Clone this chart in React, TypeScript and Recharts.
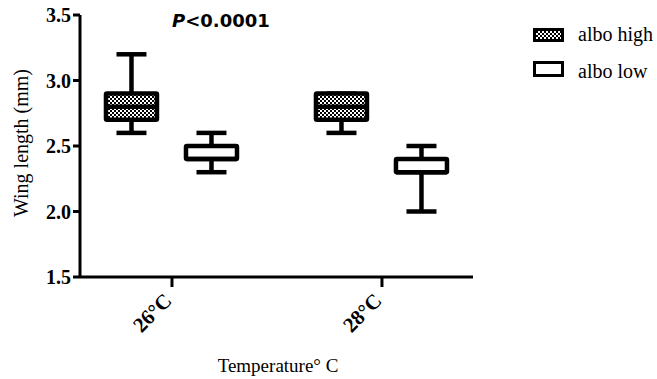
import { Bar, ComposedChart, Label, XAxis, YAxis } from 'recharts';

// wing length box plots, albo high vs albo low, per rearing temperature
const categories = ['26°C', '28°C'];
const temps = [26, 28];

const highMin = [2.6, 2.6];
const highQ1 = [2.7, 2.7];
const highMedian = [2.8, 2.8];
const highQ3 = [2.9, 2.9];
const highMax = [3.2, 2.9];

const lowMin = [2.3, 2.0];
const lowQ1 = [2.4, 2.3];
const lowMedian = [2.4, 2.3];
const lowQ3 = [2.5, 2.4];
const lowMax = [2.6, 2.5];

const yTicks = [1.5, 2.0, 2.5, 3.0, 3.5];

const INK = '#000';
const SERIF = '"Liberation Serif", "Times New Roman", serif';
const SANS = '"DejaVu Sans", Verdana, sans-serif';

interface BoxStats {
  min: number;
  q1: number;
  median: number;
  q3: number;
  max: number;
}

const data = temps.map((t, i) => ({
  temp: t,
  label: categories[i],
  high: { min: highMin[i], q1: highQ1[i], median: highMedian[i], q3: highQ3[i], max: highMax[i] },
  low: { min: lowMin[i], q1: lowQ1[i], median: lowMedian[i], q3: lowQ3[i], max: lowMax[i] },
  highRange: [highMin[i], highMax[i]],
  lowRange: [lowMin[i], lowMax[i]],
}));

const makeBox = (kind: 'high' | 'low') => (props: any) => {
  const { x, y, width, height, payload } = props;
  const s: BoxStats = payload[kind];
  const top = Math.min(y, y + height);
  const h = Math.abs(height);
  const k = h / (s.max - s.min);
  const py = (v: number) => top + (s.max - v) * k;
  const cx = x + width / 2;
  const cap = 30;
  const sw = 4.5;
  return (
    <g>
      <line x1={cx} x2={cx} y1={py(s.max)} y2={py(s.q3)} stroke={INK} strokeWidth={sw} />
      <line x1={cx} x2={cx} y1={py(s.q1)} y2={py(s.min)} stroke={INK} strokeWidth={sw} />
      <line x1={cx - cap / 2} x2={cx + cap / 2} y1={py(s.max)} y2={py(s.max)} stroke={INK} strokeWidth={sw} />
      <line x1={cx - cap / 2} x2={cx + cap / 2} y1={py(s.min)} y2={py(s.min)} stroke={INK} strokeWidth={sw} />
      <rect
        x={x + 2}
        y={py(s.q3)}
        width={width - 4}
        height={py(s.q1) - py(s.q3)}
        fill={kind === 'high' ? 'url(#checker)' : '#fff'}
        stroke={INK}
        strokeWidth={sw}
        rx={1}
      />
      <line x1={x + 2} x2={x + width - 2} y1={py(s.median)} y2={py(s.median)} stroke={INK} strokeWidth={sw} />
    </g>
  );
};

const XTick = (props: any) => {
  const { x, y, payload } = props;
  const idx = temps.indexOf(payload.value);
  const ax = x + 1;
  const ay = y + 13;
  return (
    <text
      x={ax}
      y={ay}
      transform={`rotate(-45, ${ax}, ${ay})`}
      textAnchor="end"
      fontFamily={SERIF}
      fontWeight="bold"
      fontSize={21}
      fill={INK}
    >
      {categories[idx]}
    </text>
  );
};

const Checker = ({ id }: { id: string }) => (
  <pattern id={id} width={4} height={4} patternUnits="userSpaceOnUse">
    <rect width={4} height={4} fill="#fff" />
    <rect width={2} height={2} fill="#000" />
    <rect x={2} y={2} width={2} height={2} fill="#000" />
  </pattern>
);

export default function App() {
  return (
    <div style={{ position: 'absolute', left: 0, top: 0, width: 657, height: 379, background: '#fff' }}>
      <ComposedChart
        width={657}
        height={379}
        data={data}
        margin={{ top: 15, right: 184, bottom: 42, left: 0 }}
        barSize={55}
        barGap={25}
      >
        <defs>
          <Checker id="checker" />
        </defs>
        <XAxis
          dataKey="temp"
          type="number"
          domain={[25.124, 28.867]}
          ticks={temps}
          height={60}
          axisLine={{ stroke: INK, strokeWidth: 3 }}
          tickLine={{ stroke: INK, strokeWidth: 3 }}
          tickSize={10}
          tick={<XTick />}
          allowDataOverflow
        >
          <Label
            value="Temperature° C"
            content={() => (
              <text x={278} y={372} textAnchor="middle" fontFamily={SERIF} fontSize={19} fill={INK}>
                Temperature° C
              </text>
            )}
          />
        </XAxis>
        <YAxis
          width={80}
          domain={[1.5, 3.5]}
          ticks={yTicks}
          interval={0}
          tickFormatter={(v: number) => v.toFixed(1)}
          axisLine={{ stroke: INK, strokeWidth: 3 }}
          tickLine={{ stroke: INK, strokeWidth: 3 }}
          tickSize={7}
          tickMargin={2}
          tick={{ fontFamily: SERIF, fontWeight: 'bold', fontSize: 20, fill: INK }}
          allowDataOverflow
        >
          <Label
            value="Wing length (mm)"
            content={() => (
              <text
                x={28}
                y={143}
                transform="rotate(-90, 28, 143)"
                textAnchor="middle"
                fontFamily={SERIF}
                fontSize={20}
                fill={INK}
              >
                Wing length (mm)
              </text>
            )}
          />
        </YAxis>
        <Bar dataKey="highRange" name="albo high" shape={makeBox('high')} isAnimationActive={false} />
        <Bar dataKey="lowRange" name="albo low" shape={makeBox('low')} isAnimationActive={false} />
      </ComposedChart>

      <div
        style={{
          position: 'absolute',
          left: 172,
          top: 10,
          fontFamily: SANS,
          fontWeight: 'bold',
          fontSize: 18,
          lineHeight: '22px',
          color: INK,
          whiteSpace: 'nowrap',
        }}
      >
        <i>P</i>&lt;0.0001
      </div>

      <svg style={{ position: 'absolute', left: 520, top: 15 }} width={137} height={75}>
        <defs>
          <Checker id="checker-legend" />
        </defs>
        <rect x={14.5} y={14.5} width={28} height={11} fill="url(#checker-legend)" stroke={INK} strokeWidth={3} />
        <text x={58} y={26} fontFamily={SERIF} fontSize={20} fill={INK}>albo high</text>
        <rect x={14.5} y={47.5} width={28} height={13} fill="#fff" stroke={INK} strokeWidth={3} />
        <text x={58} y={63} fontFamily={SERIF} fontSize={20} fill={INK}>albo low</text>
      </svg>
    </div>
  );
}
